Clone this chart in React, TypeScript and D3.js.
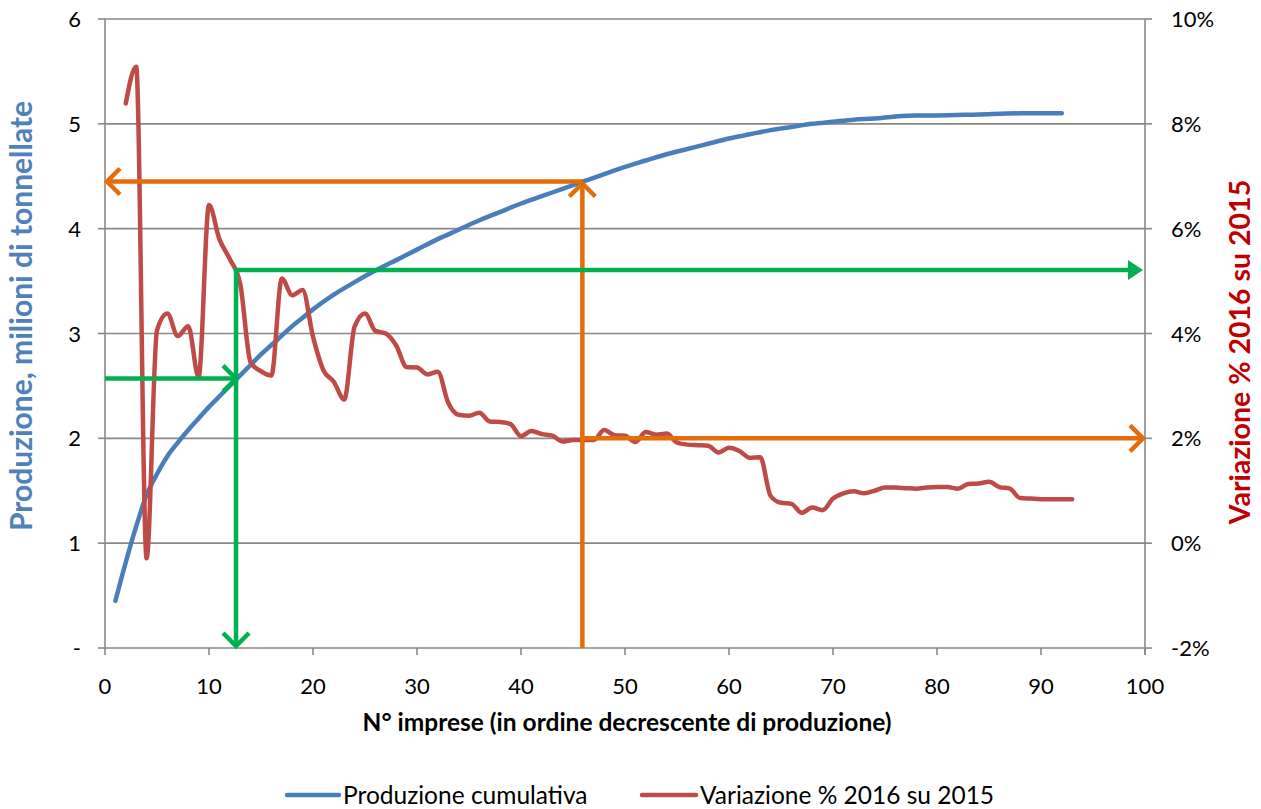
import React from "react";
import * as d3 from "d3";

const blueX = [1, 2, 3, 4, 5, 6, 7, 8, 9, 10, 11, 12, 13, 14, 15, 16, 17, 18, 19, 20, 22, 24, 26, 28, 30, 32, 34, 36, 38, 40, 42, 44, 46, 48, 50, 52, 54, 56, 58, 60, 62, 64, 66, 68, 70, 72, 74, 76, 78, 80, 84, 88, 92];
const blueY = [0.45, 0.82, 1.16, 1.46, 1.66, 1.83, 1.96, 2.08, 2.19, 2.3, 2.4, 2.5, 2.6, 2.7, 2.8, 2.89, 2.98, 3.07, 3.15, 3.23, 3.37, 3.49, 3.6, 3.7, 3.8, 3.9, 3.99, 4.08, 4.16, 4.24, 4.31, 4.38, 4.45, 4.52, 4.59, 4.65, 4.71, 4.76, 4.81, 4.86, 4.9, 4.94, 4.97, 5.0, 5.02, 5.04, 5.05, 5.07, 5.08, 5.08, 5.09, 5.1, 5.1];

const redX = [2, 3, 4, 5, 6, 7, 8, 9, 10, 11, 12, 13, 14, 15, 16, 17, 18, 19, 20, 21, 22, 23, 24, 25, 26, 27, 28, 29, 30, 31, 32, 33, 34, 35, 36, 37, 38, 39, 40, 41, 42, 43, 44, 45, 46, 47, 48, 49, 50, 51, 52, 53, 54, 55, 56, 57, 58, 59, 60, 61, 62, 63, 64, 65, 66, 67, 68, 69, 70, 71, 72, 73, 74, 75, 76, 77, 78, 79, 80, 81, 82, 83, 84, 85, 86, 87, 88, 89, 90, 91, 92, 93];
const redY = [8.39, 9.09, -0.29, 4.06, 4.38, 3.95, 4.14, 3.17, 6.45, 5.8, 5.42, 4.95, 3.45, 3.28, 3.2, 5.05, 4.73, 4.83, 3.94, 3.3, 3.08, 2.74, 4.13, 4.38, 4.05, 4.0, 3.77, 3.36, 3.35, 3.22, 3.27, 2.68, 2.45, 2.43, 2.49, 2.32, 2.31, 2.27, 2.04, 2.14, 2.08, 2.05, 1.94, 1.97, 1.97, 1.97, 2.16, 2.06, 2.05, 1.93, 2.12, 2.07, 2.09, 1.92, 1.88, 1.87, 1.86, 1.73, 1.82, 1.76, 1.63, 1.64, 0.9, 0.77, 0.75, 0.58, 0.68, 0.63, 0.85, 0.95, 0.99, 0.95, 1.0, 1.06, 1.06, 1.05, 1.04, 1.06, 1.07, 1.07, 1.04, 1.13, 1.14, 1.17, 1.07, 1.04, 0.86, 0.85, 0.84, 0.84, 0.84, 0.84];

const xTicks = [0, 10, 20, 30, 40, 50, 60, 70, 80, 90, 100];
const leftTicks = [0, 1, 2, 3, 4, 5, 6];
const rightTicks = [-2, 0, 2, 4, 6, 8, 10];

// reference guides (x in firms, left value in Mt, right value in %)
const greenX = 12.6;
const greenLeftVal = 2.57;
const greenRightVal = 5.21;
const orangeX = 45.9;
const orangeLeftVal = 4.45;
const orangeRightVal = 2;

const W = 1261, H = 809;
const L = 105, R = 1145, T = 19, B = 648;
const BLUE = "#4A7EBB";
const RED = "#BE4B48";
const ORANGE = "#E46C0A";
const GREEN = "#00B050";
const GRID = "#898989";
const FONT = "Lato, 'Open Sans', sans-serif";

export default function App() {
  const x = d3.scaleLinear().domain([0, 100]).range([L, R]);
  const yL = d3.scaleLinear().domain([0, 6]).range([B, T]);
  const yR = d3.scaleLinear().domain([-2, 10]).range([B, T]);

  const blueLine = d3.line<number>().x((_, i) => x(blueX[i])).y((d) => yL(d)).curve(d3.curveMonotoneX);
  const redLine = d3.line<number>().x((_, i) => x(redX[i])).y((d) => yR(d)).curve(d3.curveMonotoneX);

  const gx = x(greenX), gyL = yL(greenLeftVal), gyR = yR(greenRightVal);
  const ox = x(orangeX), oyL = yL(orangeLeftVal), oyR = yR(orangeRightVal);
  const ah = 13; // arrowhead size

  const chevron = (tx: number, ty: number, dir: "l" | "r" | "u" | "d") => {
    let p = "";
    if (dir === "l") p = `M${tx + ah},${ty - ah} L${tx},${ty} L${tx + ah},${ty + ah}`;
    if (dir === "r") p = `M${tx - ah},${ty - ah} L${tx},${ty} L${tx - ah},${ty + ah}`;
    if (dir === "u") p = `M${tx - ah},${ty + ah} L${tx},${ty} L${tx + ah},${ty + ah}`;
    if (dir === "d") p = `M${tx - ah},${ty - ah} L${tx},${ty} L${tx + ah},${ty - ah}`;
    return p;
  };

  return (
    <svg width={W} height={H} style={{ position: "absolute", left: 0, top: 0, background: "#fff" }}>
      {/* gridlines */}
      {leftTicks.map((t) => (
        <line key={"g" + t} x1={L} x2={R} y1={yL(t)} y2={yL(t)} stroke={GRID} strokeWidth={1.6} />
      ))}
      {/* axes */}
      <line x1={L} x2={L} y1={T} y2={B} stroke={GRID} strokeWidth={1.6} />
      <line x1={R} x2={R} y1={T} y2={B + 7} stroke={GRID} strokeWidth={1.6} />
      {leftTicks.map((t) => (
        <line key={"lt" + t} x1={L - 7} x2={L} y1={yL(t)} y2={yL(t)} stroke={GRID} strokeWidth={1.6} />
      ))}
      {rightTicks.map((t) => (
        <line key={"rt" + t} x1={R} x2={R + 7} y1={yR(t)} y2={yR(t)} stroke={GRID} strokeWidth={1.6} />
      ))}
      {xTicks.map((t) => (
        <line key={"xt" + t} x1={x(t)} x2={x(t)} y1={B} y2={B + 7} stroke={GRID} strokeWidth={1.6} />
      ))}

      {/* tick labels */}
      {leftTicks.map((t) => (
        <text key={"ll" + t} x={81} y={yL(t) + 8} textAnchor="end" fontFamily={FONT} fontSize={22} fill="#000">
          {t === 0 ? "-" : t}
        </text>
      ))}
      {rightTicks.map((t) => (
        <text key={"rl" + t} x={1171} y={yR(t) + 8} textAnchor="start" fontFamily={FONT} fontSize={22} fill="#000">
          {t + "%"}
        </text>
      ))}
      {xTicks.map((t) => (
        <text key={"xl" + t} x={x(t)} y={694} textAnchor="middle" fontFamily={FONT} fontSize={22} fill="#000">
          {t}
        </text>
      ))}

      {/* axis titles */}
      <text x={627} y={731} textAnchor="middle" fontFamily={FONT} fontWeight="bold" fontSize={24.5} fill="#000">
        N° imprese (in ordine decrescente di produzione)
      </text>
      <text transform={`translate(32,316) rotate(-90)`} textAnchor="middle" fontFamily={FONT} fontWeight="bold" fontSize={30} fill="#4F81BD">
        Produzione, milioni di tonnellate
      </text>
      <text transform={`translate(1250,352) rotate(-90)`} textAnchor="middle" fontFamily={FONT} fontWeight="bold" fontSize={28.5} fill="#C00000">
        Variazione % 2016 su 2015
      </text>

      {/* series */}
      <path d={blueLine(blueY) || ""} fill="none" stroke={BLUE} strokeWidth={4.5} strokeLinecap="round" strokeLinejoin="round" />
      <path d={redLine(redY) || ""} fill="none" stroke={RED} strokeWidth={4.5} strokeLinecap="round" strokeLinejoin="round" />

      {/* orange guides */}
      <g stroke={ORANGE} strokeWidth={4.5} fill="none">
        <line x1={ox} x2={L + 2} y1={oyL} y2={oyL} />
        <path d={chevron(L + 2, oyL, "l")} />
        <line x1={ox} x2={ox} y1={B} y2={oyL + 2} />
        <path d={chevron(ox, oyL + 2, "u")} />
        <line x1={ox} x2={R - 2} y1={oyR} y2={oyR} />
        <path d={chevron(R - 2, oyR, "r")} />
      </g>
      {/* green guides */}
      <g stroke={GREEN} strokeWidth={4.5} fill="none">
        <line x1={L} x2={gx} y1={gyL} y2={gyL} />
        <path d={chevron(gx, gyL, "r")} />
        <line x1={gx} x2={gx} y1={gyR} y2={B - 2} />
        <path d={chevron(gx, B - 2, "d")} />
        <line x1={gx - 2} x2={R - 14} y1={gyR} y2={gyR} />
      </g>
      <path d={`M${R - 2},${gyR} L${R - 17},${gyR - 10} L${R - 17},${gyR + 10} Z`} fill={GREEN} />

      {/* legend */}
      <line x1={287} x2={339} y1={795} y2={795} stroke={BLUE} strokeWidth={4.5} strokeLinecap="round" />
      <text x={343} y={804} fontFamily={FONT} fontSize={24.5} fill="#000">Produzione cumulativa</text>
      <line x1={642} x2={696} y1={795} y2={795} stroke={RED} strokeWidth={4.5} strokeLinecap="round" />
      <text x={700} y={804} fontFamily={FONT} fontSize={24.5} fill="#000">Variazione % 2016 su 2015</text>
    </svg>
  );
}
